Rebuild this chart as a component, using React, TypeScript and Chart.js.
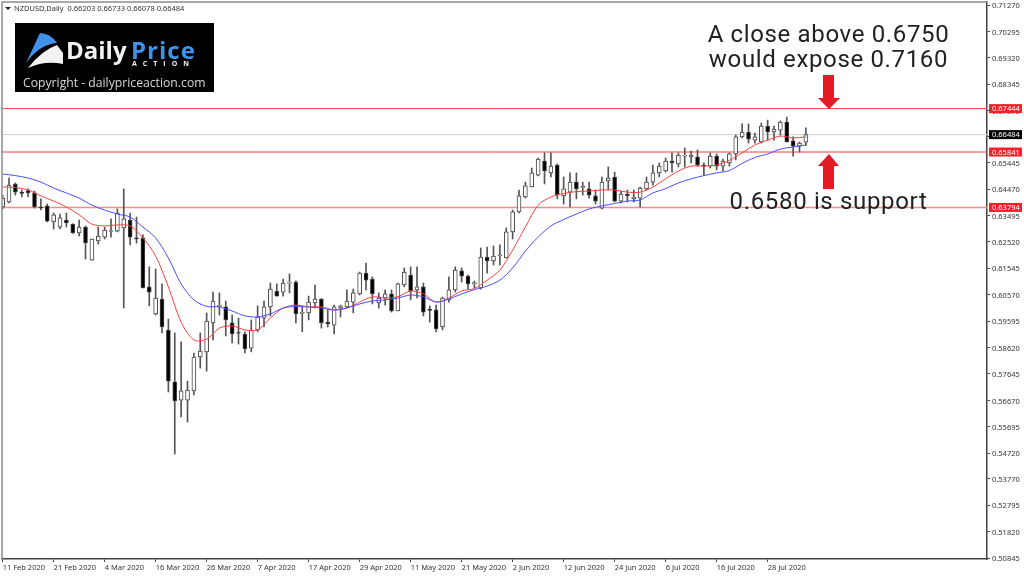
// @ts-nocheck
import {useEffect, useRef} from "react";
import {Chart, registerables} from "chart.js";

Chart.register(...registerables);

const dateLabels = ["11 Feb 2020", "21 Feb 2020", "4 Mar 2020", "16 Mar 2020", "26 Mar 2020", "7 Apr 2020", "17 Apr 2020", "29 Apr 2020", "11 May 2020", "21 May 2020", "2 Jun 2020", "12 Jun 2020", "24 Jun 2020", "6 Jul 2020", "16 Jul 2020", "28 Jul 2020"];
const barsPerDateLabel = 8;

const priceTicks = [0.7127, 0.70295, 0.6932, 0.68345, 0.6737, 0.6642, 0.65445, 0.6447, 0.63495, 0.6252, 0.61545, 0.6057, 0.59595, 0.5862, 0.57645, 0.5667, 0.55695, 0.5472, 0.5377, 0.52795, 0.5182, 0.50845];

const opens = [
    0.6381, 0.6400, 0.6466, 0.6436, 0.6442, 0.6433, 0.6381, 0.6385, 0.6326, 0.6307,
    0.6333, 0.6318, 0.6285, 0.6307, 0.6185, 0.6256, 0.6270, 0.6291, 0.6292, 0.6304,
    0.6333, 0.6267, 0.6267, 0.6086, 0.5986, 0.6041, 0.5927, 0.5735, 0.5668, 0.5668,
    0.5702, 0.5827, 0.5846, 0.5953, 0.6014, 0.6012, 0.5953, 0.5917, 0.5912, 0.5860,
    0.5927, 0.5971, 0.6012, 0.6071, 0.6067, 0.6100, 0.6104, 0.5988, 0.5990, 0.6027,
    0.6041, 0.5956, 0.5945, 0.6008, 0.6012, 0.6030, 0.6060, 0.6137, 0.6115, 0.6027,
    0.6045, 0.6060, 0.5997, 0.6093, 0.6130, 0.6075, 0.6086, 0.6003, 0.6001, 0.5938,
    0.6038, 0.6075, 0.6145, 0.6126, 0.6098, 0.6082, 0.6196, 0.6182, 0.6200, 0.6193,
    0.6289, 0.6363, 0.6418, 0.6455, 0.6499, 0.6551, 0.6507, 0.6536, 0.6422, 0.6436,
    0.6473, 0.6453, 0.6448, 0.6422, 0.6377, 0.6477, 0.6492, 0.6403, 0.6429, 0.6411,
    0.6414, 0.6448, 0.6473, 0.6507, 0.6514, 0.6551, 0.6540, 0.6569, 0.6566, 0.6566,
    0.6536, 0.6532, 0.6569, 0.6532, 0.6544, 0.6577, 0.6640, 0.6658, 0.6628, 0.6621,
    0.6680, 0.6658, 0.6665, 0.6695, 0.6625, 0.6606, 0.66203,
];
const closes = [
    0.6414, 0.6462, 0.6436, 0.6431, 0.6433, 0.6381, 0.6379, 0.6329, 0.6352, 0.6341,
    0.6322, 0.6285, 0.6307, 0.6248, 0.6263, 0.6274, 0.6296, 0.6294, 0.6359, 0.6337,
    0.6270, 0.6263, 0.6082, 0.6067, 0.6045, 0.5938, 0.5738, 0.5665, 0.5702, 0.5705,
    0.5827, 0.5849, 0.5960, 0.6034, 0.6018, 0.5964, 0.5912, 0.5915, 0.5857, 0.5927,
    0.5975, 0.6012, 0.6078, 0.6052, 0.6100, 0.6104, 0.5986, 0.5992, 0.6030, 0.6041,
    0.5953, 0.5949, 0.6012, 0.6016, 0.6034, 0.6064, 0.6137, 0.6111, 0.6060, 0.6045,
    0.6060, 0.5997, 0.6097, 0.6141, 0.6071, 0.6086, 0.5993, 0.5999, 0.5931, 0.6045,
    0.6075, 0.6148, 0.6126, 0.6097, 0.6102, 0.6196, 0.6182, 0.6200, 0.6204, 0.6289,
    0.6363, 0.6422, 0.6459, 0.6507, 0.6558, 0.6514, 0.6532, 0.6425, 0.6448, 0.6473,
    0.6448, 0.6457, 0.6425, 0.6403, 0.6473, 0.6488, 0.6403, 0.6429, 0.6422, 0.6418,
    0.6451, 0.6473, 0.6507, 0.6532, 0.6551, 0.6544, 0.6573, 0.6573, 0.6573, 0.6536,
    0.6532, 0.6569, 0.6532, 0.6551, 0.6577, 0.6640, 0.6658, 0.6632, 0.6640, 0.6680,
    0.6658, 0.6669, 0.6695, 0.6621, 0.6606, 0.6617, 0.66484,
];
const highs = [
    0.6425, 0.6488, 0.6470, 0.6444, 0.6448, 0.6440, 0.6411, 0.6392, 0.6359, 0.6355,
    0.6359, 0.6319, 0.6333, 0.6311, 0.6263, 0.6307, 0.6307, 0.6337, 0.6374, 0.6448,
    0.6359, 0.6344, 0.6278, 0.6160, 0.6152, 0.6097, 0.5967, 0.5916, 0.5883, 0.5738,
    0.5842, 0.5916, 0.5990, 0.6067, 0.6064, 0.6034, 0.5982, 0.5971, 0.5920, 0.5964,
    0.6016, 0.6034, 0.6100, 0.6097, 0.6115, 0.6134, 0.6108, 0.6012, 0.6052, 0.6093,
    0.6043, 0.6001, 0.6019, 0.6019, 0.6075, 0.6078, 0.6141, 0.6174, 0.6123, 0.6064,
    0.6075, 0.6075, 0.6100, 0.6156, 0.6160, 0.6160, 0.6100, 0.6016, 0.6019, 0.6049,
    0.6123, 0.6160, 0.6156, 0.6130, 0.6108, 0.6230, 0.6233, 0.6237, 0.6241, 0.6304,
    0.6370, 0.6444, 0.6473, 0.6525, 0.6562, 0.6581, 0.6581, 0.6540, 0.6492, 0.6507,
    0.6507, 0.6473, 0.6473, 0.6444, 0.6492, 0.6529, 0.6510, 0.6440, 0.6444, 0.6444,
    0.6455, 0.6492, 0.6536, 0.6544, 0.6562, 0.6581, 0.6581, 0.6599, 0.6588, 0.6592,
    0.6544, 0.6581, 0.6577, 0.6558, 0.6581, 0.6647, 0.6688, 0.6688, 0.6654, 0.6691,
    0.6702, 0.6680, 0.6699, 0.6713, 0.6640, 0.6621, 0.66733,
];
const lows = [
    0.6374, 0.6396, 0.6425, 0.6418, 0.6418, 0.6377, 0.6370, 0.6326, 0.6300, 0.6300,
    0.6307, 0.6283, 0.6274, 0.6189, 0.6185, 0.6244, 0.6263, 0.6270, 0.6289, 0.6008,
    0.6241, 0.6248, 0.6082, 0.6016, 0.5982, 0.5916, 0.5698, 0.5469, 0.5606, 0.5587,
    0.5687, 0.5786, 0.5775, 0.5890, 0.5982, 0.5905, 0.5879, 0.5875, 0.5842, 0.5846,
    0.5920, 0.5938, 0.5979, 0.6052, 0.6052, 0.6064, 0.5953, 0.5920, 0.5964, 0.6008,
    0.5934, 0.5938, 0.5912, 0.5975, 0.6008, 0.5990, 0.6056, 0.6075, 0.6023, 0.6008,
    0.6019, 0.5993, 0.5997, 0.6086, 0.6038, 0.6045, 0.5979, 0.5956, 0.5920, 0.5927,
    0.6030, 0.6067, 0.6104, 0.6078, 0.6082, 0.6078, 0.6137, 0.6167, 0.6167, 0.6193,
    0.6263, 0.6359, 0.6414, 0.6455, 0.6496, 0.6466, 0.6492, 0.6411, 0.6392, 0.6381,
    0.6411, 0.6425, 0.6414, 0.6392, 0.6374, 0.6444, 0.6400, 0.6396, 0.6400, 0.6400,
    0.6381, 0.6444, 0.6462, 0.6492, 0.6510, 0.6510, 0.6529, 0.6529, 0.6544, 0.6532,
    0.6499, 0.6525, 0.6518, 0.6514, 0.6532, 0.6555, 0.6636, 0.6617, 0.6617, 0.6617,
    0.6628, 0.6628, 0.6647, 0.6621, 0.6569, 0.6584, 0.66078,
];

// moving averages
const maStep = 2;
const maFast = [
    0.6455, 0.6453, 0.6444, 0.6422, 0.6403, 0.6381, 0.6352, 0.6318, 0.6311, 0.6315, 0.6311, 0.6267, 0.6200, 0.6086, 0.5956, 0.5890,
    0.5893, 0.5934, 0.5942, 0.5927, 0.5927, 0.5971, 0.6008, 0.6019, 0.6012, 0.6012, 0.6001, 0.6008, 0.6030, 0.6049, 0.6045, 0.6050,
    0.6071, 0.6060, 0.6030, 0.6045, 0.6071, 0.6080, 0.6111, 0.6148, 0.6222, 0.6307, 0.6388, 0.6418, 0.6431, 0.6438, 0.6440, 0.6444,
    0.6444, 0.6436, 0.6436, 0.6455, 0.6485, 0.6514, 0.6532, 0.6532, 0.6536, 0.6553, 0.6581, 0.6610, 0.6628, 0.6643, 0.6636, 0.6640,
];
const maSlow = [
    0.6503, 0.6497, 0.6488, 0.6473, 0.6451, 0.6433, 0.6414, 0.6388, 0.6370, 0.6355, 0.6344, 0.6307, 0.6267, 0.6193, 0.6097, 0.6038,
    0.6014, 0.6012, 0.5997, 0.5979, 0.5975, 0.5986, 0.6008, 0.6014, 0.6012, 0.6008, 0.6001, 0.6008, 0.6023, 0.6034, 0.6038, 0.6045,
    0.6056, 0.6049, 0.6030, 0.6041, 0.6060, 0.6076, 0.6089, 0.6111, 0.6156, 0.6218, 0.6270, 0.6311, 0.6335, 0.6355, 0.6374, 0.6385,
    0.6394, 0.6403, 0.6407, 0.6433, 0.6449, 0.6470, 0.6485, 0.6497, 0.6507, 0.6516, 0.6542, 0.6564, 0.6577, 0.6595, 0.6603, 0.6610,
];

const resistance = 0.67444;
const support = 0.65841;
const lowerLevel = 0.63794;
const lastPrice = 0.66484;

const symbolInfo = "NZDUSD,Daily  0.66203 0.66733 0.66078 0.66484";
const xMin = -0.1;
const xMax = 154.41;
const yMin = 0.50812;
const yMax = 0.71381;

const levelData = (v) => [{x: xMin, y: v}, {x: xMax, y: v}];
const tickFont = {family: "Noto Sans", size: 7.5};

const noPadding = (s) => {
    s.paddingTop = 0;
    s.paddingBottom = 0;
    s.paddingLeft = 0;
    s.paddingRight = 0;
};

const overlayPlugin = {
    id: "overlay",
    afterDraw(chart) {
        const {ctx, chartArea, scales} = chart;
        const {left, right, top, bottom} = chartArea;
        ctx.save();

        // left and top frame
        ctx.strokeStyle = "#8c8c8c";
        ctx.lineWidth = 1.5;
        ctx.beginPath();
        ctx.moveTo(left, bottom);
        ctx.lineTo(left, top);
        ctx.lineTo(right, top);
        ctx.stroke();

        // symbol line
        ctx.fillStyle = "#222";
        ctx.beginPath();
        ctx.moveTo(5, 7);
        ctx.lineTo(11, 7);
        ctx.lineTo(8, 10);
        ctx.fill();
        ctx.font = "7.5px 'Noto Sans'";
        ctx.textBaseline = "middle";
        ctx.textAlign = "left";
        ctx.fillStyle = "#333";
        ctx.fillText(symbolInfo, 14, 8.5);

        // logo
        ctx.fillStyle = "#000";
        ctx.fillRect(15, 23, 199, 69);
        ctx.fillStyle = "#3f92ea";
        ctx.beginPath();
        ctx.moveTo(26, 63);
        ctx.lineTo(40, 33);
        ctx.quadraticCurveTo(50, 33, 57, 43);
        ctx.quadraticCurveTo(40, 44, 26, 63);
        ctx.fill();
        ctx.fillStyle = "#f2f2f2";
        ctx.beginPath();
        ctx.moveTo(28, 68);
        ctx.quadraticCurveTo(42, 50, 57, 45);
        ctx.lineTo(63, 53);
        ctx.lineTo(63, 64);
        ctx.quadraticCurveTo(45, 60, 28, 68);
        ctx.fill();
        ctx.font = "bold 24px 'Open Sans'";
        ctx.textBaseline = "alphabetic";
        ctx.fillStyle = "#f2f2f2";
        ctx.fillText("Daily", 66, 59);
        ctx.fillStyle = "#3f92ea";
        ctx.letterSpacing = "1px";
        ctx.fillText("Price", 131, 59);
        ctx.font = "bold 7px 'Open Sans'";
        ctx.fillStyle = "#f2f2f2";
        ctx.letterSpacing = "6px";
        ctx.fillText("ACTION", 132, 66);
        ctx.letterSpacing = "0px";
        ctx.font = "12.2px 'Open Sans'";
        ctx.fillStyle = "#d8d8d8";
        ctx.fillText("Copyright - dailypriceaction.com", 23, 87);

        // commentary
        ctx.font = "24px Roboto";
        ctx.fillStyle = "#222";
        ctx.textAlign = "center";
        ctx.letterSpacing = "0.65px";
        ctx.fillText("A close above 0.6750", 828.5, 42);
        ctx.fillText("would expose 0.7160", 828.5, 67);
        ctx.fillText("0.6580 is support", 828.5, 209);
        ctx.letterSpacing = "0px";

        // arrows
        ctx.fillStyle = "#e31b23";
        ctx.beginPath();
        ctx.moveTo(823, 75);
        ctx.lineTo(834, 75);
        ctx.lineTo(834, 98);
        ctx.lineTo(840, 98);
        ctx.lineTo(829, 109);
        ctx.lineTo(818, 98);
        ctx.lineTo(823, 98);
        ctx.fill();
        ctx.beginPath();
        ctx.moveTo(823, 189);
        ctx.lineTo(834, 189);
        ctx.lineTo(834, 166);
        ctx.lineTo(839, 166);
        ctx.lineTo(829, 154);
        ctx.lineTo(818, 166);
        ctx.lineTo(823, 166);
        ctx.fill();

        // price flags on the axis
        const flag = (value, colour) => {
            const y = scales.y.getPixelForValue(value);
            ctx.fillStyle = colour;
            ctx.fillRect(989, y - 4.5, 33, 9);
            ctx.fillStyle = "#fff";
            ctx.font = "7.5px 'Noto Sans'";
            ctx.textAlign = "left";
            ctx.textBaseline = "middle";
            ctx.fillText(value.toFixed(5), 992, y + 0.5);
        };
        flag(resistance, "#f5202a");
        flag(support, "#f5202a");
        flag(lowerLevel, "#f5202a");
        flag(lastPrice, "#000");
        ctx.restore();
    },
};

export default function App() {
    const chartRef = useRef(null);
    useEffect(() => {
        const wicks = highs.map((h, i) => ({x: i, y: [lows[i], h]}));
        const bodies = opens.map((o, i) => ({x: i, y: [o, closes[i]]}));
        const bodyColours = opens.map((o, i) => (closes[i] >= o ? "#fff" : "#000"));
        const chart = new Chart(chartRef.current.getContext("2d"), {
            type: "bar",
            data: {
                datasets: [
                    {type: "line", data: levelData(resistance), borderColor: "#ff3c3c", borderWidth: 1, pointRadius: 0, order: 5},
                    {type: "line", data: levelData(support), borderColor: "#ff3c3c", borderWidth: 1, pointRadius: 0, order: 5},
                    {type: "line", data: levelData(lowerLevel), borderColor: "#ff8a8a", borderWidth: 1.5, pointRadius: 0, order: 5},
                    {type: "line", data: levelData(lastPrice), borderColor: "#cfcfcf", borderWidth: 1, pointRadius: 0, order: 5},
                    {data: wicks, backgroundColor: "#555", barThickness: 1, grouped: false, order: 3},
                    {data: bodies, backgroundColor: bodyColours, borderColor: "#444", borderWidth: 1, borderSkipped: false, barThickness: 4, grouped: false, order: 2},
                    {type: "line", data: maSlow.map((y, i) => ({x: i * maStep, y})), borderColor: "#4c4cff", borderWidth: 1, pointRadius: 0, tension: 0.3, order: 1},
                    {type: "line", data: maFast.map((y, i) => ({x: i * maStep, y})), borderColor: "#ff4040", borderWidth: 1, pointRadius: 0, tension: 0.3, order: 1},
                ],
            },
            options: {
                animation: false,
                responsive: false,
                layout: {padding: {left: 2, top: 2}},
                plugins: {legend: {display: false}, tooltip: {enabled: false}},
                scales: {
                    x: {
                        type: "linear",
                        min: xMin,
                        max: xMax,
                        offset: false,
                        afterFit: (s) => { s.height = 17; noPadding(s); },
                        afterBuildTicks: (s) => { s.ticks = dateLabels.map((_, i) => ({value: i * barsPerDateLabel})); },
                        grid: {offset: false, drawOnChartArea: false, color: "#444", tickLength: 3},
                        border: {color: "#444", width: 1.5},
                        ticks: {
                            autoSkip: false,
                            maxRotation: 0,
                            align: "start",
                            padding: 1,
                            color: "#333",
                            font: tickFont,
                            callback: (v) => dateLabels[v / barsPerDateLabel],
                        },
                    },
                    y: {
                        position: "right",
                        min: yMin,
                        max: yMax,
                        afterFit: (s) => { s.width = 37; noPadding(s); },
                        afterBuildTicks: (s) => { s.ticks = priceTicks.map((value) => ({value})); },
                        grid: {drawOnChartArea: false, color: "#444", tickLength: 3},
                        border: {color: "#444", width: 1.5},
                        ticks: {
                            autoSkip: false,
                            padding: 2,
                            labelOffset: 1,
                            color: "#333",
                            font: tickFont,
                            callback: (v) => v.toFixed(5),
                        },
                    },
                },
            },
            plugins: [overlayPlugin],
        });
        return () => chart.destroy();
    }, []);

    return (
        <div style={{position: "fixed", left: 0, top: 0, width: 1024, height: 576, background: "#fff"}}>
            <canvas ref={chartRef} width={1024} height={576} style={{display: "block", filter: "blur(0.35px)"}}/>
        </div>
    );
}
